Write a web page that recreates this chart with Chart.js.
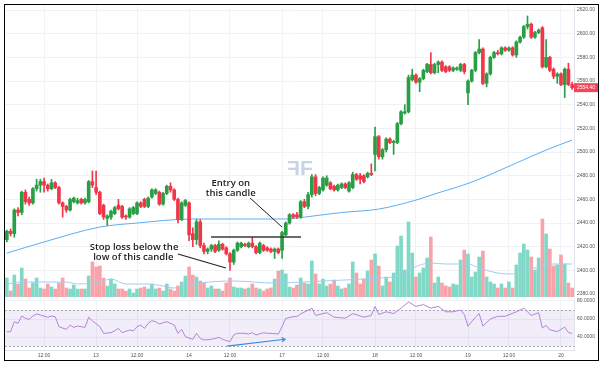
<!DOCTYPE html>
<html>
<head>
<meta charset="utf-8">
<script src="https://cdn.jsdelivr.net/npm/chart.js@4.4.1/dist/chart.umd.min.js"></script>
<style>
  body { margin: 0; background: #fff; width: 607px; height: 372px; position: relative; overflow: hidden; }
  #frame { position: absolute; left: 4px; top: 4px; width: 593px; height: 355px; border: 1.5px solid #000; pointer-events: none; z-index: 2; }
  #price { position: absolute; left: 5px; top: 6px; }
  #rsi { position: absolute; left: 5px; top: 298px; }
</style>
</head>
<body>
<canvas id="price" width="595" height="291"></canvas>
<canvas id="rsi" width="595" height="64"></canvas>
<div id="frame"></div>
<script>
// candles (one per bar, left to right)
const open  = [2426,2433,2431,2451,2449,2466,2460,2457,2469,2472,2475,2472,2469,2474,2470,2457,2454,2451,2458,2457,2460,2457,2458,2475,2470,2466,2455,2444,2445,2448,2455,2454,2446,2445,2448,2448,2457,2460,2454,2462,2465,2466,2456,2465,2471,2468,2460,2443,2455,2457,2431,2426,2441,2421,2416,2418,2421,2417,2422,2419,2414,2407,2417,2420,2422,2420,2423,2420,2415,2421,2419,2418,2416,2418,2417,2430,2440,2447,2447,2445,2458,2454,2464,2479,2465,2468,2472,2474,2471,2468,2470,2473,2467,2470,2481,2480,2480,2479,2482,2498,2513,2496,2502,2511,2508,2508,2524,2533,2534,2561,2565,2559,2562,2568,2574,2567,2574,2576,2572,2572,2569,2570,2569,2574,2550,2560,2569,2584,2587,2558,2566,2580,2584,2583,2588,2586,2588,2582,2593,2597,2606,2608,2597,2601,2605,2572,2580,2570,2564,2566,2557,2570,2557];
const high  = [2434,2435,2452,2453,2467,2468,2462,2470,2477,2477,2478,2473,2477,2475,2471,2458,2455,2461,2462,2461,2461,2461,2476,2484,2484,2467,2456,2447,2451,2454,2460,2455,2447,2453,2454,2458,2458,2461,2462,2469,2469,2467,2466,2472,2474,2469,2461,2458,2460,2458,2436,2443,2443,2423,2419,2422,2422,2425,2423,2420,2415,2418,2424,2424,2423,2424,2428,2421,2424,2422,2420,2419,2419,2419,2433,2441,2448,2448,2449,2459,2460,2466,2481,2481,2471,2479,2480,2475,2472,2473,2474,2474,2475,2483,2482,2482,2481,2483,2490,2521,2514,2503,2512,2512,2510,2525,2535,2540,2565,2570,2566,2563,2570,2575,2584,2575,2577,2577,2573,2573,2572,2572,2575,2575,2561,2570,2585,2595,2588,2567,2581,2585,2586,2589,2589,2589,2589,2594,2598,2607,2615,2609,2602,2604,2606,2595,2581,2571,2567,2567,2571,2575,2559];
const low   = [2424,2429,2428,2446,2447,2456,2455,2456,2467,2466,2466,2467,2468,2469,2456,2445,2449,2450,2457,2456,2456,2456,2457,2470,2464,2447,2443,2438,2443,2447,2451,2444,2443,2444,2447,2447,2453,2453,2453,2461,2464,2455,2455,2464,2466,2459,2440,2442,2454,2425,2420,2422,2419,2414,2414,2416,2415,2416,2417,2413,2400,2405,2416,2419,2420,2419,2419,2414,2414,2416,2416,2415,2410,2414,2410,2429,2439,2444,2444,2444,2453,2452,2462,2463,2464,2467,2471,2468,2467,2467,2469,2469,2466,2469,2476,2473,2474,2478,2480,2484,2494,2494,2500,2507,2498,2507,2523,2532,2533,2560,2558,2551,2561,2567,2566,2566,2567,2568,2567,2568,2568,2569,2568,2566,2540,2559,2568,2583,2557,2555,2565,2579,2582,2582,2585,2585,2581,2580,2592,2596,2604,2596,2596,2600,2571,2571,2568,2562,2558,2556,2546,2556,2553];
const close = [2433,2431,2451,2449,2466,2458,2457,2469,2472,2475,2472,2469,2474,2470,2457,2454,2451,2460,2461,2459,2457,2460,2475,2472,2466,2448,2445,2446,2450,2453,2452,2445,2445,2452,2453,2457,2454,2454,2461,2468,2468,2456,2465,2471,2468,2460,2443,2457,2459,2430,2426,2441,2421,2416,2418,2421,2416,2422,2418,2414,2407,2417,2423,2423,2421,2423,2420,2415,2423,2417,2417,2416,2418,2415,2432,2440,2447,2445,2445,2458,2454,2464,2479,2465,2470,2478,2478,2469,2468,2472,2473,2470,2474,2481,2477,2477,2475,2482,2481,2513,2496,2502,2511,2508,2509,2524,2534,2534,2563,2565,2559,2562,2569,2574,2567,2574,2576,2569,2568,2569,2571,2571,2574,2568,2560,2569,2584,2587,2558,2566,2580,2584,2583,2588,2586,2588,2582,2593,2597,2606,2608,2597,2601,2603,2572,2580,2569,2564,2566,2557,2570,2557,2554.4];
const volume = [19,6,22,13,29,18,9,14,19,9,8,13,10,8,14,19,9,8,12,8,8,8,21,35,30,31,19,11,18,13,8,8,6,8,4,8,9,10,8,13,8,9,6,13,8,6,11,15,21,30,22,20,16,14,9,11,8,8,6,14,19,10,9,9,8,9,13,9,8,6,8,9,18,26,27,23,10,9,12,19,14,13,36,23,13,18,11,13,17,11,8,9,13,35,24,13,18,26,37,43,31,11,20,15,24,51,61,27,75,44,20,24,29,39,60,14,20,14,11,10,13,12,37,47,43,20,25,40,46,20,15,13,9,13,9,15,9,32,44,53,47,40,27,39,78,63,48,31,32,42,33,14,9];

// moving average of price, read at a few bars
const maIdx = [0,10,25,35,50,62,75,80,90,100,110,115,125,137,145,152];
const maVal = [2414.6,2424,2436.6,2440,2443.4,2443.4,2443.4,2445,2448.9,2451.8,2459.4,2464.5,2474.6,2490.7,2501.7,2510.1];

// moving average of volume, read at a few bars
const vmaIdx = [0,4,16,19,25,28,32,38,42,45,48,52,61,72,85,100,105,109,114,118,124,127,132,136,139,143,145,152];
const vmaVal = [13,15,15,13,15,18,13,13,11,9,11,14,16,14,16,19,21,29,34,33,33,29,24,23,29,29,33,33];

// RSI, read at a few bars
const rsiIdx = [0,1,2,3,4,5,6,7,8,9,11,12,13,14,16,17,18,19,20,21,22,23,25,26,28,29,30,31,33,34,35,36,37,38,39,40,41,42,43,45,46,47,48,50,51,52,53,55,57,58,60,61,62,64,65,66,67,69,70,71,73,74,75,77,78,79,82,83,86,88,91,93,96,98,99,100,102,104,106,108,110,112,114,116,118,120,122,123,124,126,127,128,130,132,134,137,139,141,143,144,145,146,148,150,151,152];
const rsiVal = [45.9,45.9,57,55.2,63.3,60.7,59.6,63.3,65.6,64.4,61.9,63.3,62.6,51.5,48.5,53.3,50.7,52.2,51.5,50.7,61.9,58.1,51.5,44.1,44.8,47,49.6,44.8,47.8,46.7,51.5,53.3,49.6,55.2,58.1,57,54.4,55.9,57,53.3,44.1,48.5,40.4,37.4,44.1,38.5,36.7,37.4,39.6,37.4,34.8,42.2,44.1,44.1,43.3,44.8,42.2,44.8,44.1,44.1,43.3,51.5,60.7,62.6,62.6,65.6,72,64,67,62,61,66,62,64,74,65,68,66,72,79,74,76,72,74,68,68,70,65,52,62,66,52,60,63,63,68,72,64,67,50,53,48,46,51,45,44];

// time axis
const tickIdx  = [10,24,35,49,60,74,85,99,110,124,135,149];
const tickText = ["12:00","13","12:00","14","12:00","17","12:00","18","12:00","19","12:00","20"];

const N = open.length;
const UP = '#27a045', DOWN = '#f2364a';
const UP_VOL = '#80d8c7', DOWN_VOL = '#f8a3aa';
const candleColors = open.map((o, i) => close[i] >= o ? UP : DOWN);
const volColors = open.map((o, i) => close[i] >= o ? UP_VOL : DOWN_VOL);
const axisFont = { family: 'Liberation Sans', size: 5 };
const GRID = '#f0f2f6';

function noPad(s) {
  s.paddingTop = 0; s.paddingBottom = 0; s.paddingLeft = 0; s.paddingRight = 0;
}

function xScale(showTicks) {
  return {
    type: 'linear', min: -0.5, max: N - 0.5, offset: false,
    afterBuildTicks: s => { s.ticks = tickIdx.map(v => ({ value: v })); },
    ticks: {
      display: showTicks, font: axisFont, color: '#555', padding: 3,
      maxRotation: 0, autoSkip: false,
      callback: v => tickText[tickIdx.indexOf(v)]
    },
    grid: { color: GRID, offset: false, drawTicks: false },
    border: { display: showTicks, color: '#e0e3eb' },
    afterFit: s => { s.height = showTicks ? 12 : 0; noPad(s); }
  };
}

const notes = {
  id: 'notes',
  beforeDatasetsDraw(c) {
    const ctx = c.ctx, x = c.scales.x, y = c.scales.y;
    const cx = x.getPixelForValue(78.8), cy = y.getPixelForValue(2486.5);
    ctx.save();
    ctx.fillStyle = '#c9d3e6';
    ctx.font = 'bold 21px "Liberation Sans"';
    ctx.textBaseline = 'middle';
    ctx.textAlign = 'left';
    ctx.translate(cx, cy);
    ctx.fillText('F', 0, 1);
    ctx.scale(-1, 1);
    ctx.fillText('F', 0, 1);
    ctx.restore();
  },
  afterDatasetsDraw(c) {
    const ctx = c.ctx, x = c.scales.x, y = c.scales.y;
    const P = (i, p) => [x.getPixelForValue(i), y.getPixelForValue(p)];
    const line = (a, b, w, col) => {
      ctx.beginPath(); ctx.moveTo(a[0], a[1]); ctx.lineTo(b[0], b[1]);
      ctx.lineWidth = w; ctx.strokeStyle = col; ctx.stroke();
    };
    ctx.save();
    line(P(54.9, 2428.2), P(79.1, 2428.2), 1.5, '#3a3a3a');
    line(P(65.4, 2461.1), P(74, 2436.6), 1, '#222');
    line(P(46, 2413.8), P(58.9, 2402), 1.2, '#222');
    ctx.fillStyle = '#1c1c1c';
    ctx.font = '600 9.5px "Open Sans"';
    ctx.textAlign = 'center';
    ctx.textBaseline = 'middle';
    let p = P(60.2, 2473.8); ctx.fillText('Entry on', p[0], p[1]);
    p = P(60.2, 2465.3); ctx.fillText('this candle', p[0], p[1]);
    p = P(34.2, 2419.3); ctx.fillText('Stop loss below the', p[0], p[1]);
    p = P(34.0, 2411.3); ctx.fillText('low of this candle', p[0], p[1]);
    ctx.restore();
  },
  afterDraw(c) {
    const ctx = c.ctx, y = c.scales.y, r = c.chartArea.right;
    const last = close[N - 1];
    const py = y.getPixelForValue(last);
    ctx.save();
    ctx.fillStyle = '#f2475a';
    ctx.fillRect(r, py - 4.5, 24, 9);
    ctx.fillStyle = '#fff';
    ctx.font = '5px "Liberation Sans"';
    ctx.textBaseline = 'middle';
    ctx.fillText(last.toFixed(2), r + 3, py);
    ctx.restore();
  }
};

new Chart(document.getElementById('price'), {
  type: 'bar',
  data: {
    datasets: [
      { type: 'bar', yAxisID: 'yv', data: volume.map((v, i) => ({ x: i, y: v })),
        backgroundColor: volColors, barThickness: 3, grouped: false, order: 5 },
      { type: 'line', yAxisID: 'yv', data: vmaIdx.map((v, k) => ({ x: v, y: vmaVal[k] })),
        borderColor: '#9fcdf4', borderWidth: 1, pointRadius: 0, cubicInterpolationMode: 'monotone', order: 4 },
      { type: 'line', yAxisID: 'y', data: maIdx.map((v, k) => ({ x: v, y: maVal[k] })),
        borderColor: '#5aaef5', borderWidth: 1, pointRadius: 0, cubicInterpolationMode: 'monotone', order: 3 },
      { type: 'bar', yAxisID: 'y', data: low.map((l, i) => ({ x: i, y: [l, high[i]] })),
        backgroundColor: candleColors, barThickness: 1, grouped: false, order: 2 },
      { type: 'bar', yAxisID: 'y', data: open.map((o, i) => ({ x: i, y: [o, close[i]] })),
        backgroundColor: candleColors, barThickness: 3, minBarLength: 1, grouped: false, order: 1 }
    ]
  },
  options: {
    responsive: false, animation: false, devicePixelRatio: 1,
    layout: { padding: 0 },
    plugins: { legend: { display: false }, tooltip: { enabled: false } },
    scales: {
      x: xScale(false),
      y: {
        position: 'right', min: 2377.5, max: 2623.4,
        afterFit: s => { s.width = 26; noPad(s); },
        ticks: { stepSize: 20, includeBounds: false, font: axisFont, color: '#555', padding: 3,
          callback: v => v.toFixed(2) },
        grid: { color: GRID, drawTicks: false },
        border: { color: '#e0e3eb' }
      },
      yv: { display: false, min: 0, max: 291 }
    }
  },
  plugins: [notes]
});

const rsiBand = {
  id: 'rsiBand',
  beforeDatasetsDraw(c) {
    const ctx = c.ctx, a = c.chartArea, y = c.scales.y;
    const y70 = y.getPixelForValue(70), y30 = y.getPixelForValue(30);
    ctx.save();
    ctx.fillStyle = 'rgba(126,87,194,0.1)';
    ctx.fillRect(a.left, y70, a.right - a.left, y30 - y70);
    ctx.setLineDash([2, 2]);
    ctx.strokeStyle = '#a8a8b0';
    ctx.lineWidth = 1;
    [y70, y30].forEach(v => {
      ctx.beginPath(); ctx.moveTo(a.left, Math.round(v) + 0.5); ctx.lineTo(a.right, Math.round(v) + 0.5); ctx.stroke();
    });
    ctx.restore();
  },
  afterDatasetsDraw(c) {
    const ctx = c.ctx, x = c.scales.x, y = c.scales.y;
    const x0 = x.getPixelForValue(59.2), y0 = y.getPixelForValue(30);
    const x1 = x.getPixelForValue(74.8), y1 = y.getPixelForValue(37.5);
    const ang = Math.atan2(y1 - y0, x1 - x0);
    ctx.save();
    ctx.strokeStyle = '#2f8de4';
    ctx.lineWidth = 1.2;
    ctx.beginPath(); ctx.moveTo(x0, y0); ctx.lineTo(x1, y1); ctx.stroke();
    ctx.beginPath();
    ctx.moveTo(x1 - 4 * Math.cos(ang - 0.6), y1 - 4 * Math.sin(ang - 0.6));
    ctx.lineTo(x1, y1);
    ctx.lineTo(x1 - 4 * Math.cos(ang + 0.6), y1 - 4 * Math.sin(ang + 0.6));
    ctx.stroke();
    ctx.restore();
  }
};

new Chart(document.getElementById('rsi'), {
  type: 'line',
  data: {
    datasets: [{
      data: rsiIdx.map((v, k) => ({ x: v, y: rsiVal[k] })),
      borderColor: '#b383d9', borderWidth: 1, pointRadius: 0, tension: 0
    }]
  },
  options: {
    responsive: false, animation: false, devicePixelRatio: 1,
    layout: { padding: { top: 1 } },
    plugins: { legend: { display: false }, tooltip: { enabled: false } },
    scales: {
      x: xScale(true),
      y: {
        position: 'right', min: 25.6, max: 82.2,
        afterFit: s => { s.width = 26; noPad(s); },
        ticks: { stepSize: 20, includeBounds: false, font: axisFont, color: '#555', padding: 3,
          callback: v => v.toFixed(4) },
        grid: { color: GRID, drawTicks: false },
        border: { color: '#e0e3eb' }
      }
    }
  },
  plugins: [rsiBand]
});
</script>
</body>
</html>
